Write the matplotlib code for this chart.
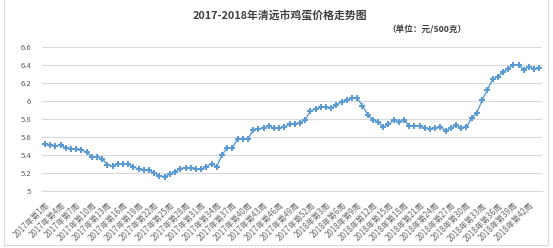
import matplotlib.pyplot as plt
from matplotlib.patches import Rectangle

plt.rcParams['font.family'] = ['Noto Sans CJK SC', 'DejaVu Sans']

# weekly egg price (yuan / 500 g)
prices_2017 = [5.52, 5.51, 5.50, 5.51, 5.48, 5.47, 5.47, 5.46, 5.43, 5.38,
               5.38, 5.36, 5.29, 5.28, 5.30, 5.30, 5.30, 5.27, 5.24, 5.23,
               5.23, 5.20, 5.17, 5.16, 5.19, 5.21, 5.25, 5.26, 5.26, 5.25,
               5.24, 5.27, 5.30, 5.27, 5.40, 5.48, 5.48, 5.58, 5.58, 5.58,
               5.68, 5.69, 5.70, 5.72, 5.70, 5.70, 5.71, 5.74, 5.74, 5.76,
               5.79, 5.89]
prices_2018 = [5.91, 5.93, 5.93, 5.92, 5.96, 5.99, 6.01, 6.03, 6.03, 5.95,
               5.85, 5.79, 5.77, 5.71, 5.74, 5.79, 5.77, 5.79, 5.72, 5.72,
               5.72, 5.70, 5.69, 5.70, 5.71, 5.67, 5.70, 5.73, 5.70, 5.71,
               5.81, 5.87, 6.01, 6.12, 6.24, 6.27, 6.32, 6.36, 6.40, 6.40,
               6.35, 6.38, 6.36, 6.37]

weeks = ['2017年第%d周' % i for i in range(1, len(prices_2017) + 1)] + \
        ['2018年第%d周' % i for i in range(1, len(prices_2018) + 1)]
prices = prices_2017 + prices_2018
yticks = [5, 5.2, 5.4, 5.6, 5.8, 6, 6.2, 6.4, 6.6]

fig = plt.figure(figsize=(5.53, 2.48), dpi=100)
ax = fig.add_axes([0.0767, 0.2298, 0.9033, 0.5806])

x = list(range(len(prices)))
ax.plot(x, prices, color='#5B9BD5', lw=1.0, marker='P', markersize=4.2,
        markeredgewidth=0, zorder=3)

ax.set_xlim(-0.5, len(prices) - 0.5)
ax.set_ylim(5, 6.6)
ax.set_yticks(yticks)
ax.set_yticklabels(['%g' % v for v in yticks])
ax.grid(axis='y', color='#D9D9D9', lw=0.8)
ax.set_axisbelow(True)
for s in ['top', 'right', 'left']:
    ax.spines[s].set_visible(False)
ax.spines['bottom'].set_color('#D9D9D9')
ax.tick_params(axis='y', length=0, labelsize=5.5, labelcolor='#595959', pad=8)

idx = x[::3]
ax.set_xticks(idx)
ax.set_xticklabels([weeks[i] for i in idx], rotation=45, ha='right',
                   va='top', rotation_mode='anchor')
ax.tick_params(axis='x', length=0, labelsize=5.8, labelcolor='#6b6b6b', pad=7)

fig.text(0.506, 0.935, '2017-2018年清远市鸡蛋价格走势图', ha='center', va='center',
         fontsize=7.8, fontweight='bold', color='#404040')
fig.text(0.772, 0.88, '（单位：元/500克）', ha='center', va='center',
         fontsize=6.2, fontweight='bold', color='#404040')

fig.patches.append(Rectangle((4 / 553, 3 / 248), 544 / 553, 250 / 248,
                             transform=fig.transFigure, fill=False,
                             edgecolor='#D9D9D9', lw=0.8))

fig.savefig('out.png', dpi=100)
